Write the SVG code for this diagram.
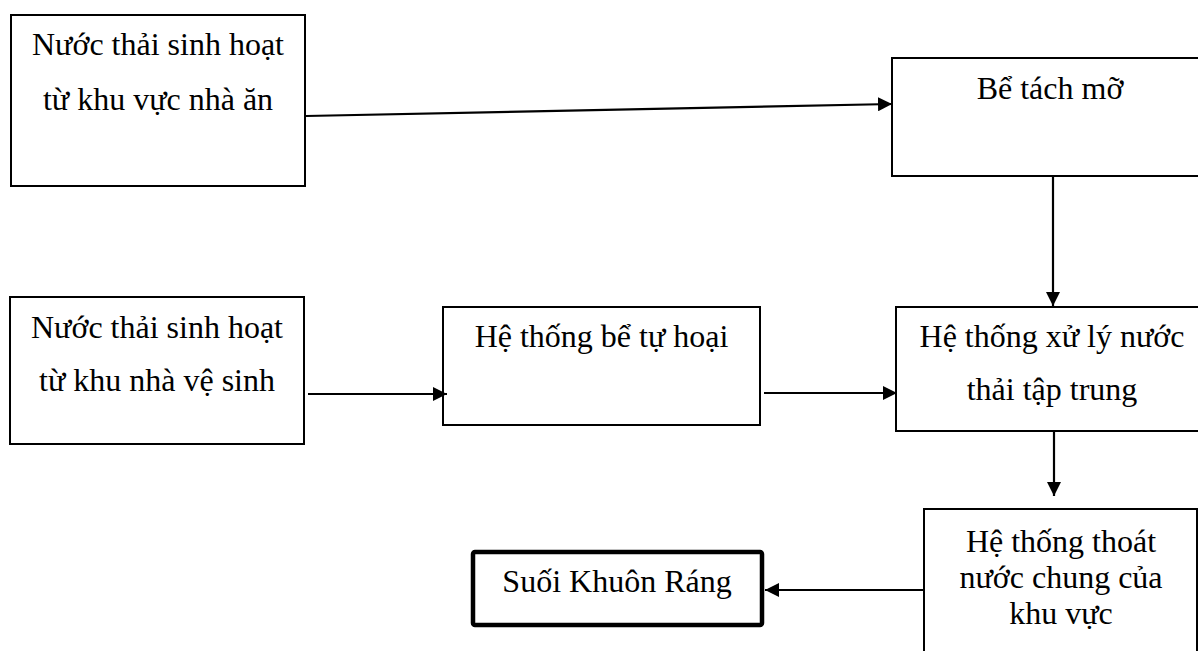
<svg xmlns="http://www.w3.org/2000/svg" width="1198" height="651" viewBox="0 0 1198 651">
<style>
.box{fill:#fff;stroke:#000;stroke-width:2}
.thick{fill:#fff;stroke:#000;stroke-width:4.5}
.t{font-family:"Liberation Serif","Times New Roman",serif;font-size:32px;fill:#000;text-anchor:middle}
.c{fill:none;stroke:#000;stroke-width:2.2}
</style>
<defs>
<marker id="ah" markerUnits="userSpaceOnUse" markerWidth="16" markerHeight="14" refX="14" refY="7" orient="auto">
<path d="M0,0 L14,7 L0,14 Z" fill="#000"/>
</marker>
</defs>
<g id="n1">
<rect class="box" x="11" y="15" width="294" height="171"/>
<text class="t" x="158" y="55">Nước thải sinh hoạt</text>
<text class="t" x="158" y="110">từ khu vực nhà ăn</text>
</g>
<g id="n2">
<rect class="box" x="892" y="58" width="316" height="118"/>
<text class="t" x="1050" y="99">Bể tách mỡ</text>
</g>
<g id="n3">
<rect class="box" x="10" y="297" width="294" height="147"/>
<text class="t" x="157" y="338">Nước thải sinh hoạt</text>
<text class="t" x="157" y="391">từ khu nhà vệ sinh</text>
</g>
<g id="n4">
<rect class="box" x="443" y="307" width="317" height="118"/>
<text class="t" x="601.5" y="347">Hệ thống bể tự hoại</text>
</g>
<g id="n5">
<rect class="box" x="896" y="307" width="312" height="124"/>
<text class="t" x="1052" y="347">Hệ thống xử lý nước</text>
<text class="t" x="1052" y="400">thải tập trung</text>
</g>
<g id="n6">
<rect class="box" x="924" y="509" width="273" height="160"/>
<text class="t" x="1061" y="552">Hệ thống thoát</text>
<text class="t" x="1061" y="588">nước chung của</text>
<text class="t" x="1061" y="624">khu vực</text>
</g>
<g id="n7">
<rect class="thick" x="473" y="552" width="289" height="73" rx="2"/>
<text class="t" x="617" y="592">Suối Khuôn Ráng</text>
</g>
<g id="connectors">
<line class="c" x1="306" y1="116" x2="892" y2="104" marker-end="url(#ah)"/>
<line class="c" x1="1053" y1="176" x2="1053" y2="306" marker-end="url(#ah)"/>
<line class="c" x1="308" y1="394" x2="447" y2="394" marker-end="url(#ah)"/>
<line class="c" x1="764" y1="393" x2="897" y2="393" marker-end="url(#ah)"/>
<line class="c" x1="1054" y1="431" x2="1054" y2="496" marker-end="url(#ah)"/>
<line class="c" x1="923" y1="590" x2="765" y2="590" marker-end="url(#ah)"/>
</g>
</svg>
